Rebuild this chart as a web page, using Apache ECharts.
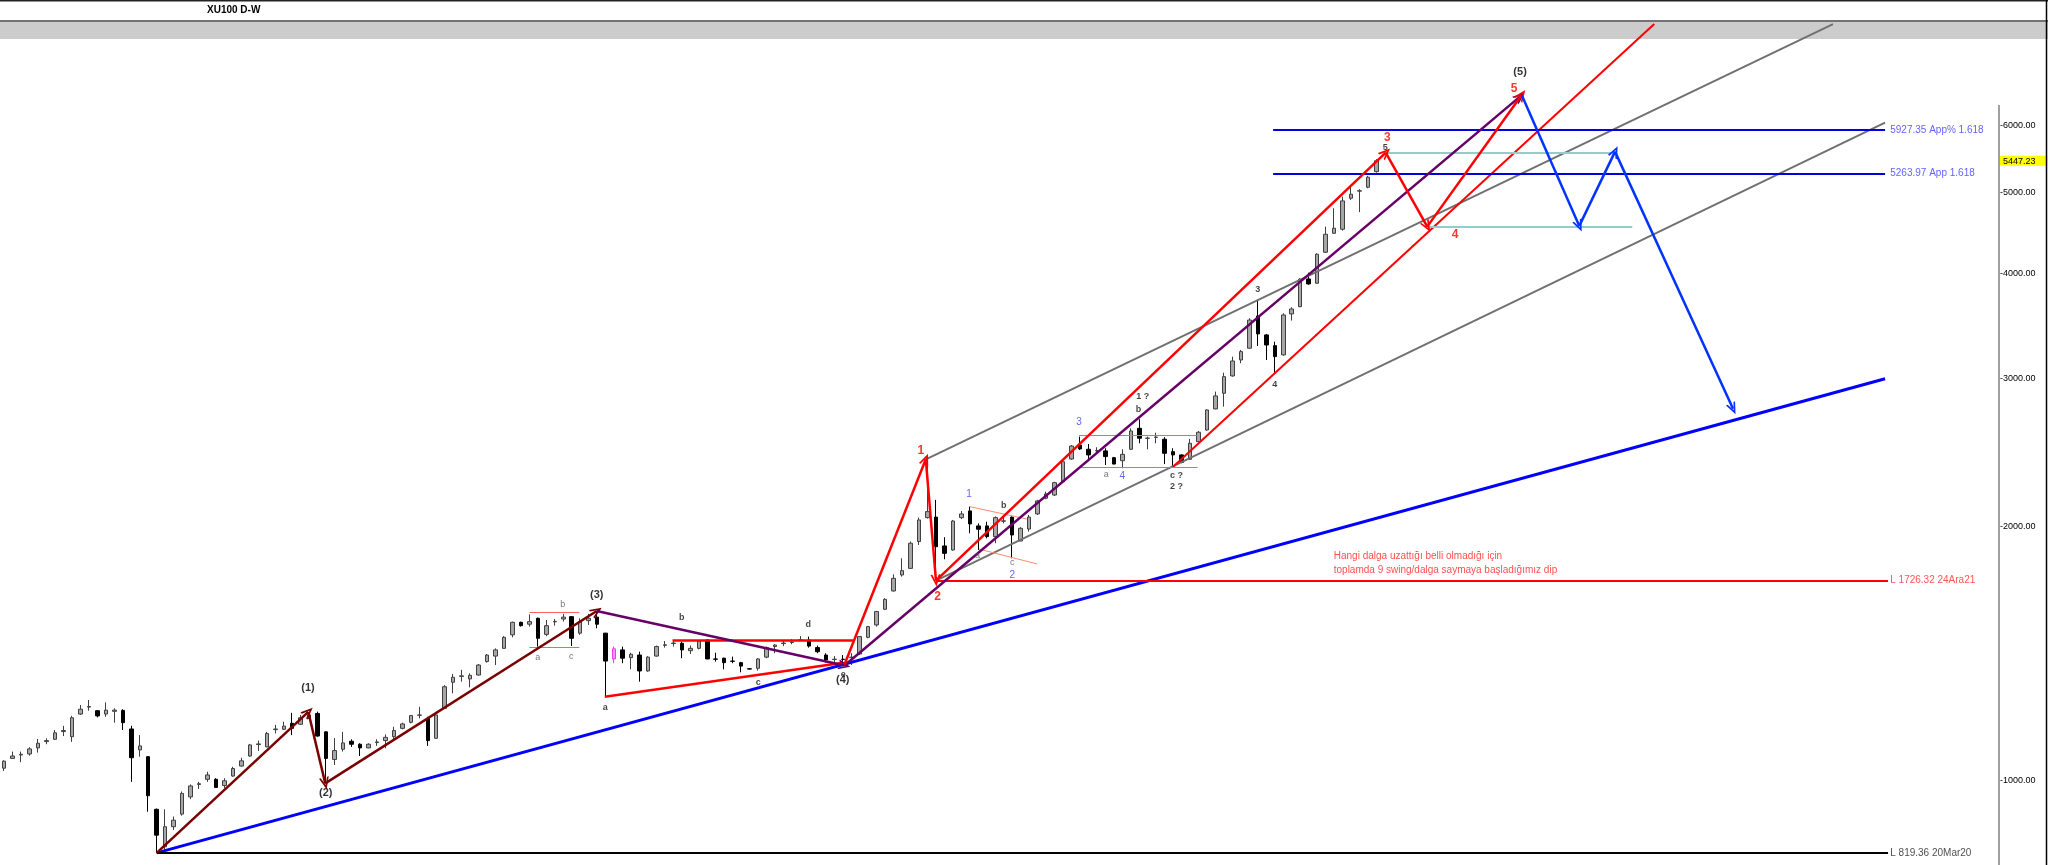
<!DOCTYPE html>
<html><head><meta charset="utf-8">
<script src="https://cdn.jsdelivr.net/npm/echarts@6/dist/echarts.min.js"></script>
<style>html,body{margin:0;padding:0;background:#fff}#c{width:2048px;height:865px}</style>
</head><body><div id="c"></div>
<script>
// ---------- DATA ----------
const title = 'XU100 D-W';
const yTicks = [1000, 2000, 3000, 4000, 5000, 6000];
const lastPrice = 5447.23;
// weekly candles [open, close, low, high]
const ohlc = [
[1033,1053,1025,1056],[1061,1068,1061,1081],[1071,1073,1050,1081],[1074,1089,1069,1094],[1092,1106,1078,1119],
[1111,1114,1103,1121],[1118,1138,1116,1147],[1142,1145,1128,1160],[1126,1186,1110,1192],[1198,1214,1195,1228],
[1221,1223,1209,1245],[1209,1192,1187,1211],[1198,1211,1189,1237],[1207,1211,1170,1217],[1210,1170,1147,1214],
[1150,1063,995,1160],[1086,1098,1066,1131],[1066,958,917,1067],[923,860,819.36,925],[833,880,826,923],
[880,896,872,905],[911,964,907,969],[955,984,949,988],[988,990,976,995],[1002,1014,995,1023],
[1002,980,980,1005],[985,998,978,1005],[1011,1032,1009,1037],[1039,1054,1037,1063],[1068,1101,1066,1104],
[1102,1104,1083,1114],[1095,1136,1094,1141],[1148,1150,1136,1163],[1149,1159,1147,1173],[1168,1152,1131,1202],
[1165,1186,1163,1195],[1185,1195,1182,1205],[1200,1128,1126,1206],[1141,1061,991,1142],[1058,1084,1042,1122],
[1088,1107,1081,1141],[1112,1103,1095,1118],[1103,1092,1068,1106],[1092,1103,1091,1106],[1108,1110,1098,1118],
[1114,1124,1091,1133],[1126,1145,1118,1157],[1152,1166,1149,1170],[1171,1193,1168,1195],[1194,1195,1184,1222],
[1183,1114,1098,1189],[1121,1195,1121,1200],[1217,1291,1217,1297],[1307,1325,1268,1337],[1328,1330,1309,1352],
[1319,1332,1289,1339],[1333,1370,1331,1374],[1383,1408,1379,1412],[1404,1428,1370,1434],[1434,1478,1432,1483],
[1488,1540,1478,1543],[1540,1526,1522,1543],[1532,1543,1522,1574],[1557,1474,1441,1560],[1490,1526,1483,1550],
[1542,1544,1526,1554],[1554,1562,1543,1576],[1564,1474,1443,1567],[1495,1543,1488,1557],[1547,1557,1529,1576],
[1562,1532,1515,1589],[1495,1385,1256,1496],[1393,1432,1377,1441],[1428,1396,1377,1441],[1398,1411,1354,1417],
[1408,1348,1309,1421],[1348,1400,1345,1404],[1404,1441,1402,1445],[1446,1448,1437,1463],[1453,1455,1441,1467],
[1454,1428,1396,1460],[1425,1434,1412,1445],[1434,1463,1430,1467],[1467,1393,1392,1470],[1393,1392,1383,1417],
[1396,1379,1354,1398],[1385,1384,1377,1402],[1379,1366,1343,1382],[1356,1355,1354,1358],[1358,1393,1349,1396],
[1400,1437,1396,1441],[1441,1447,1415,1451],[1453,1455,1443,1467],[1457,1459,1450,1471],[1466,1468,1464,1483],
[1467,1443,1437,1481],[1437,1421,1415,1445],[1408,1389,1379,1415],[1391,1392,1377,1404],[1392,1391,1379,1408],
[1398,1400,1370,1415],[1412,1481,1408,1483],[1478,1522,1474,1525],[1529,1586,1522,1589],[1596,1640,1593,1645],
[1678,1737,1675,1756],[1753,1774,1745,1835],[1785,1912,1782,1921],[1921,2038,1903,2051],[2051,2085,2046,2406],
[2054,1894,1726.32,2153],[1898,1860,1830,1944],[1877,2032,1874,2038],[2051,2072,2043,2089],[2089,2016,1965,2114],
[2005,1987,1877,2019],[2005,1947,1938,2028],[1947,2051,1912,2058],[2031,2033,2019,2054],[2054,1956,1835,2058],
[1924,1992,1923,1998],[1988,2054,1974,2066],[2072,2147,2066,2153],[2163,2188,2157,2202],[2182,2257,2176,2263],
[2263,2390,2257,2402],[2408,2495,2402,2502],[2502,2475,2468,2560],[2473,2435,2408,2509],[2462,2464,2446,2487],
[2462,2424,2369,2480],[2417,2375,2373,2422],[2397,2439,2348,2473],[2473,2600,2468,2619],[2619,2549,2514,2685],
[2548,2550,2473,2560],[2555,2557,2514,2588],[2542,2446,2375,2556],[2457,2435,2358,2480],[2435,2386,2380,2439],
[2406,2514,2402,2544],[2525,2591,2523,2600],[2607,2754,2602,2759],[2762,2862,2759,2896],[2883,3017,2779,3050],
[3023,3149,3017,3187],[3158,3231,3130,3246],[3261,3523,3258,3540],[3562,3391,3281,3722],[3382,3290,3158,3391],
[3284,3187,3050,3320],[3202,3572,3195,3589],[3582,3631,3517,3648],[3654,3939,3648,3950],[3942,3889,3878,4010],
[3896,4218,3889,4229],[4241,4455,4234,4549],[4467,4529,4459,4784],[4517,4881,4499,4938],[4917,4971,4894,5099],
[5013,5019,4733,5040],[5067,5208,5053,5227],[5288,5447.23,5274,5471]
];
const highlightedCandle = 72;
const firstWeekUTC = Date.UTC(2019, 10, 15);
const weekCount = 236;

// annotation points: [candle index, price]
const maroonWave = [[18,819.36],[35.9,1205],[37.9,991],[69.95,1588.5]];
const purpleWave = [[69.95,1588.5],[99.2,1368],[178.95,6494]];
const redWave = [[99.2,1372],[108.8,2406],[110.0,1726.32],[163.1,5571],[168.0,4549],[179.15,6524]];
const blueProjection = [[179.15,6524],[185.95,4558],[190.17,5586],[204.1,2763]];
const blueTrend = [[18,819.36],[222.05,3000]];
const grayUpper = [[108.8,2406],[215.9,7920]];
const grayLower = [[110.0,1726.32],[222.05,6046]];
const redChannel = [[138.0,2358],[194.8,7920]];
const fibLevels = [5927.35, 5263.97];
const fibRange = [149.8, 222.05];
const supportLevels = [1726.32, 819.36];
const supportStarts = [110.0, 18];
const levelEnd = 222.4;
const cyanUpper = [[163.1,5575],[190.2,5575]];
const cyanLower = [[168.0,4542],[192.2,4542]];
const boxA = [[[62.0,1583],[67.9,1583]],[[62.0,1436.6],[67.9,1436.6]]];
const boxB = [[[126.9,2569.6],[140.9,2569.6]],[[126.9,2354.3],[140.9,2354.3]]];
const triangleTop = [[78.9,1467],[100.2,1467]];
const triangleBottom = [[70.9,1256],[99.06,1379]];
const wedgeLines = [[[114.0,2113.5],[120.7,2043.4]],[[115.1,1881.7],[121.96,1806.6]]];

const bigWaveLabels = [['(1)',35.86,1286],['(2)',37.95,966],['(3)',69.95,1660],['(4)',99.0,1315],['(5)',178.96,6943]];
const redWaveLabels = [['1',108.2,2463],['2',110.2,1652],['3',163.3,5804],['4',171.3,4455],['5',178.25,6645]];
const subLabelsLight = [['a',62.98,1399.5],['c',66.95,1401.8],['b',65.93,1615],['a',114.9,1848],['c',119.0,1813],['a',130.1,2309]];
const subLabelsDark = [['a',70.96,1220],['b',80.0,1560],['c',89.03,1307],['d',94.93,1532],['e',99.06,1336],['b',118.0,2119],
  ['1 ?',134.4,2856],['b',133.9,2759],['c ?',138.4,2303],['2 ?',138.4,2233],['3',148.0,3832],['4',150.0,2949],['5',163.05,5655]];
const blueSubLabels = [['1',113.9,2188],['2',119.0,1753],['3',126.9,2665],['4',132.0,2294]];
const levelTexts = [['5927.35 App% 1.618',5927.35],['5263.97 App 1.618',5263.97],['L 1726.32 24Ara21',1726.32],['L 819.36 20Mar20',819.36]];
const levelTextX = 222.6;
const noteLines = [['Hangi dalga uzattığı belli olmadığı için',156.9,1847],['toplamda 9 swing/dalga saymaya başladığımız dip',156.9,1774]];

// ---------- BUILD ----------
const categories = [];
for (let i = 0; i < weekCount; i++) categories.push(new Date(firstWeekUTC + i * 7 * 864e5).toISOString().slice(0, 10));

const candleData = ohlc.map((v, i) => i === highlightedCandle
  ? { value: v, itemStyle: { color: '#ff99ff', borderColor: '#ff33ff', color0: '#ff99ff', borderColor0: '#ff33ff' } }
  : v);

const ARROW = 'path://M5,0L10,10L8.2,10L5,3.6L1.8,10L0,10Z';
const ml = [];
function seg(a, b, color, width, arrow) {
  const end = { coord: b, lineStyle: { color, width, type: 'solid' } };
  if (arrow) { end.symbol = ARROW; end.symbolSize = [10, 12]; }
  ml.push([{ coord: a, lineStyle: { color, width, type: 'solid' } }, end]);
}
function poly(pts, color, width, arrow) { for (let i = 0; i < pts.length - 1; i++) seg(pts[i], pts[i + 1], color, width, arrow); }

poly(blueTrend, '#0000ff', 3, false);
poly(grayUpper, '#707070', 2, false);
poly(grayLower, '#707070', 2, false);
poly(redChannel, '#ff0000', 2, false);
fibLevels.forEach(v => seg([fibRange[0], v], [fibRange[1], v], '#0000e0', 2, false));
seg([supportStarts[0], supportLevels[0]], [levelEnd, supportLevels[0]], '#ff0000', 2, false);
seg([supportStarts[1], supportLevels[1]], [levelEnd, supportLevels[1]], '#000000', 2, false);
poly(cyanUpper, '#94cccc', 2, false);
poly(cyanLower, '#94cccc', 2, false);
boxA.forEach(l => poly(l, '#ff6060', 1, false));
boxB.forEach(l => poly(l, '#ff6060', 1, false));
wedgeLines.forEach(l => poly(l, '#ff8a70', 1, false));
poly(triangleTop, '#ff0000', 2.5, false);
poly(triangleBottom, '#ff0000', 2.5, false);
poly(maroonWave, '#7a0000', 2.5, true);
poly(purpleWave, '#660066', 2.5, true);
poly(redWave, '#ff0000', 2.5, true);
poly(blueProjection, '#0033ff', 2.5, true);

const FF = '"Liberation Sans", Arial, sans-serif';
const labels = [];
function addLabels(list, style) {
  list.forEach(([t, k, p]) => labels.push({ value: [k, p], label: Object.assign({ show: true, formatter: () => t, fontFamily: FF }, style) }));
}
addLabels(bigWaveLabels, { position: 'inside', color: '#000', fontSize: 11, fontWeight: 'bold' });
addLabels(redWaveLabels, { position: 'inside', color: '#ff0000', fontSize: 12, fontWeight: 'bold' });
addLabels(subLabelsLight, { position: 'inside', color: '#555', fontSize: 9 });
addLabels(subLabelsDark, { position: 'inside', color: '#111', fontSize: 9, fontWeight: 'bold' });
addLabels(blueSubLabels, { position: 'inside', color: '#3a3aff', fontSize: 10 });
const levelColors = ['#3a3aff', '#3a3aff', '#ff2a2a', '#222'];
levelTexts.forEach(([t, v], i) => labels.push({ value: [levelTextX, v], label: { show: true, formatter: () => t, position: 'right', distance: 0, color: levelColors[i], fontSize: 10, fontFamily: FF } }));
addLabels(noteLines, { position: 'right', distance: 0, color: '#ff2020', fontSize: 10 });

const chart = echarts.init(document.getElementById('c'), null, { renderer: 'canvas' });
chart.setOption({
  animation: false,
  backgroundColor: '#ffffff',
  grid: { left: 0, right: 49, top: 22, bottom: 0, containLabel: false, outerBoundsMode: 'none' },
  xAxis: [
    { type: 'category', data: categories, boundaryGap: true, show: false },
    { type: 'value', min: -0.5, max: weekCount - 0.5, show: false }
  ],
  yAxis: {
    type: 'log', logBase: 10, min: 792.5, max: 7965, position: 'right',
    axisLine: { show: false }, splitLine: { show: false },
    axisTick: { show: false },
    axisLabel: {
      customValues: yTicks.concat([lastPrice]),
      formatter: v => Math.abs(v - lastPrice) < 0.01 ? '{hl|' + lastPrice.toFixed(2) + '}' : '-' + Number(v).toFixed(2),
      fontSize: 9, fontFamily: FF, color: '#000', margin: 1,
      rich: { hl: { backgroundColor: '#ffff00', color: '#000', fontSize: 9, fontFamily: FF, lineHeight: 10, padding: [1, 12, 0, 3] } }
    }
  },
  graphic: [
    { type: 'rect', shape: { x: 0, y: 22, width: 2048, height: 17 }, style: { fill: '#cccccc' }, z: 0, zlevel: 0 },
    { type: 'rect', shape: { x: 0, y: 0, width: 2048, height: 1.5 }, style: { fill: '#222' }, z: 100 },
    { type: 'rect', shape: { x: 0, y: 20.3, width: 2048, height: 1.4 }, style: { fill: '#444' }, z: 100 },
    { type: 'text', x: 207, y: 10.5, style: { text: title, font: 'bold 10px "Liberation Sans"', fill: '#000', verticalAlign: 'middle' }, z: 101 },
    { type: 'line', shape: { x1: 1999, y1: 105, x2: 1999, y2: 865 }, style: { stroke: '#a0a0a0', lineWidth: 2 }, z: 100 },
    { type: 'line', shape: { x1: 2046.5, y1: 0, x2: 2046.5, y2: 865 }, style: { stroke: '#000', lineWidth: 1.5 }, z: 100 }
  ],
  series: [
    {
      type: 'candlestick', xAxisIndex: 0, yAxisIndex: 0, data: candleData, barWidth: 4, z: 2,
      itemStyle: { color: '#a6a6a6', color0: '#000000', borderColor: '#404040', borderColor0: '#000000', borderWidth: 1 }
    },
    {
      type: 'line', xAxisIndex: 1, yAxisIndex: 0, data: [[0, 1000]], showSymbol: false, symbol: 'none',
      lineStyle: { opacity: 0 }, silent: true, z: 5,
      markLine: { silent: true, symbol: ['none', 'none'], animation: false, label: { show: false }, emphasis: { disabled: true }, data: ml }
    },
    {
      type: 'scatter', xAxisIndex: 1, yAxisIndex: 0, data: labels, symbolSize: 1, silent: true, z: 6,
      itemStyle: { color: 'rgba(0,0,0,0)' }
    }
  ]
});
</script></body></html>
